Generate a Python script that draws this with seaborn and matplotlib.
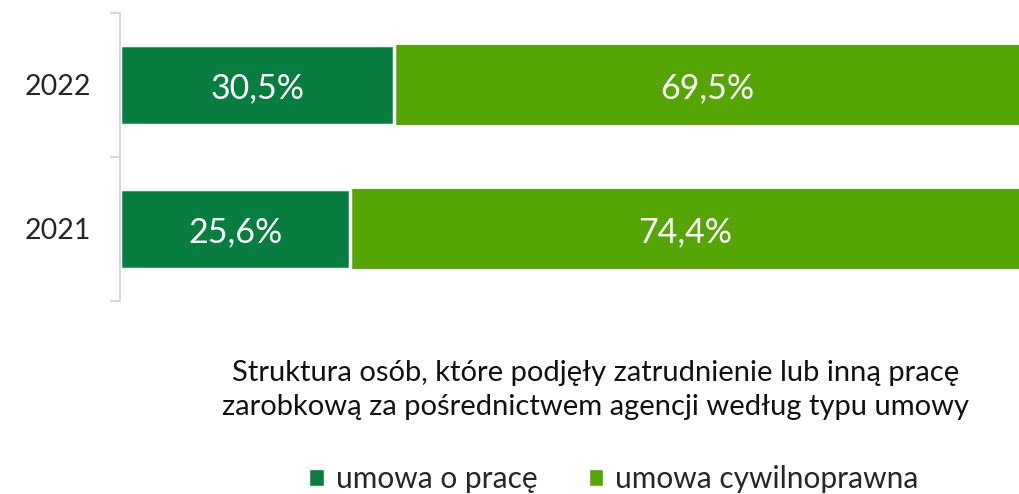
import matplotlib
matplotlib.use('Agg')
import matplotlib.pyplot as plt
import seaborn as sns
import pandas as pd
from matplotlib.patches import Patch

# dane
lata = ["2022", "2021"]
umowa_o_prace = [30.5, 25.6]
umowa_cywilnoprawna = [69.5, 74.4]
etykiety_seria = ["umowa o pracę", "umowa cywilnoprawna"]
tytul = "Struktura osób, które podjęły zatrudnienie lub inną pracę\nzarobkową za pośrednictwem agencji według typu umowy"

kolor_ciemny = "#077D40"
kolor_jasny = "#55A505"

df = pd.DataFrame({
    "rok": lata,
    "praca": umowa_o_prace,
    "cywil": umowa_cywilnoprawna,
})
df["razem"] = df["praca"] + df["cywil"]

sns.set_style("white")
plt.rcParams['font.family'] = ['Lato', 'DejaVu Sans']

fig = plt.figure(figsize=(10.2, 4.94), dpi=100)
ax = fig.add_axes([0.1176, 0.3907, 0.8824, 0.583])

# najpierw całkowita długość (jasny), potem ciemny na wierzchu
sns.barplot(data=df, y="rok", x="razem", order=lata, color=kolor_jasny,
            orient="h", width=0.55, saturation=1, ax=ax,
            edgecolor="white", linewidth=0)
sns.barplot(data=df, y="rok", x="praca", order=lata, color=kolor_ciemny,
            orient="h", width=0.55, saturation=1, ax=ax,
            edgecolor="white", linewidth=2.5)

# etykiety wartości
for i, (p, c) in enumerate(zip(umowa_o_prace, umowa_cywilnoprawna)):
    ax.text(p / 2, i + 0.02, f"{p:.1f}%".replace(".", ","), ha="center", va="center",
            color="white", fontsize=24.5)
    ax.text(p + c / 2, i + 0.02, f"{c:.1f}%".replace(".", ","), ha="center", va="center",
            color="white", fontsize=24.5)

ax.set_xlim(0, 100)
ax.set_ylim(1.5, -0.5)
ax.set_xlabel("")
ax.set_ylabel("")
ax.set_xticks([])

for s in ["top", "right", "bottom"]:
    ax.spines[s].set_visible(False)
ax.spines["left"].set_color("#D9D9D9")
ax.spines["left"].set_linewidth(1.5)

ax.set_yticks([-0.5, 0.5, 1.5], minor=True)
ax.tick_params(axis="y", which="minor", length=7, width=1.5, color="#D9D9D9", left=True)
ax.tick_params(axis="y", which="major", length=0, pad=21, labelsize=20.5)

fig.text(0.584, 0.211, tytul, ha="center", va="center", fontsize=21,
         linespacing=1.38, color="#111111")

uchwyty = [Patch(facecolor=kolor_ciemny, label=etykiety_seria[0]),
           Patch(facecolor=kolor_jasny, label=etykiety_seria[1])]
fig.legend(handles=uchwyty, loc="center", bbox_to_anchor=(0.602, 0.03), ncol=2,
           frameon=False, fontsize=21.5, handlelength=0.5, handleheight=0.5,
           handletextpad=0.4, columnspacing=1.7)

fig.savefig("out.png", dpi=100)
